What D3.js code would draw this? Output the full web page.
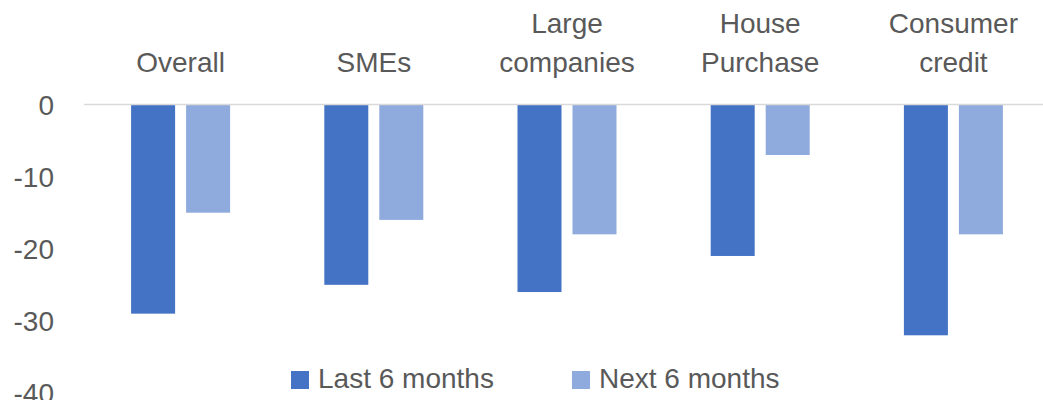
<!DOCTYPE html>
<html>
<head>
<meta charset="utf-8">
<style>
body { margin: 0; background: #fff; }
text { font-family: "Liberation Sans", Arial, sans-serif; fill: #595959; }
</style>
</head>
<body>
<script src="https://cdn.jsdelivr.net/npm/d3@7/dist/d3.min.js"></script>
<script>
var width = 1043,
    height = 400;

// data
var categories = [["Overall"], ["SMEs"], ["Large", "companies"], ["House", "Purchase"], ["Consumer", "credit"]];
var seriesNames = ["Last 6 months", "Next 6 months"];
var last6 = [-29, -25, -26, -21, -32];
var next6 = [-15, -16, -18, -7, -18];
var yTicks = [0, -10, -20, -30, -40];
var colors = ["#4472C4", "#8FAADC"];

var svg = d3.select("body").append("svg")
    .attr("width", width)
    .attr("height", height);

var y = d3.scaleLinear()
    .domain([0, -40])
    .range([104.5, 393]);

var x0 = d3.scaleBand()
    .domain(d3.range(categories.length))
    .range([84, 1050])
    .padding(0);

var groupW = 99;
var x1 = d3.scaleBand()
    .domain([0, 1])
    .range([0, groupW])
    .paddingInner(0.2);

// y axis labels (plain hyphen like excel)
var yAxis = d3.axisLeft(y)
    .tickValues(yTicks)
    .tickSize(0)
    .tickPadding(0)
    .tickFormat(function(d) { return String(d); });
var ya = svg.append("g")
    .attr("transform", "translate(54,0)")
    .call(yAxis);
ya.select(".domain").remove();
ya.selectAll("text")
    .style("font-size", "28px")
    .attr("fill", "#595959")
    .attr("dy", "0.35em");

// bars
var series = [last6, next6];
series.forEach(function(vals, s) {
  svg.append("g").selectAll("rect")
    .data(vals)
    .enter()
    .append("rect")
    .attr("x", function(d, i) { return x0(i) + (x0.bandwidth() - groupW) / 2 + x1(s); })
    .attr("y", y(0))
    .attr("width", x1.bandwidth())
    .attr("height", function(d) { return y(d) - y(0); })
    .attr("fill", colors[s]);
});

// zero line
svg.append("line")
    .attr("x1", 84).attr("x2", width)
    .attr("y1", y(0)).attr("y2", y(0))
    .attr("stroke", "#D9D9D9")
    .attr("stroke-width", 1.5);

// category labels (on top)
var lab = svg.append("g").selectAll("text")
    .data(categories)
    .enter()
    .append("text")
    .attr("text-anchor", "middle")
    .style("font-size", "28px")
    .attr("x", function(d, i) { return x0(i) + x0.bandwidth() / 2; });
lab.each(function(lines) {
  var t = d3.select(this);
  var base = 72 - (lines.length - 1) * 39;
  lines.forEach(function(l, k) {
    t.append("tspan")
      .attr("x", t.attr("x"))
      .attr("y", base + k * 39)
      .text(l);
  });
});

// legend
var legX = [291, 572];
var leg = svg.append("g").selectAll("g")
    .data(seriesNames)
    .enter()
    .append("g")
    .attr("transform", function(d, i) { return "translate(" + legX[i] + ",371)"; });
leg.append("rect")
    .attr("width", 18).attr("height", 18)
    .attr("fill", function(d, i) { return colors[i]; });
leg.append("text")
    .attr("x", 27).attr("y", 17)
    .style("font-size", "28px")
    .text(function(d) { return d; });
</script>
</body>
</html>
